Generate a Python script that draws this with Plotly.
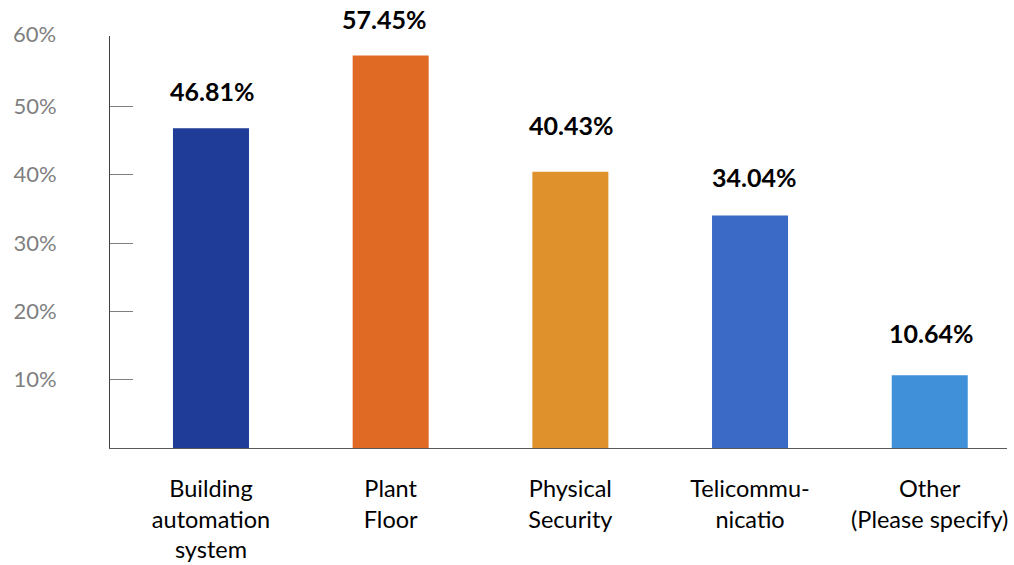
import plotly.graph_objects as go

categories = ["Building automation system", "Plant Floor", "Physical Security",
              "Telicommunicatio", "Other (Please specify)"]
tick_labels = ["Building<br>automation<br>system", "Plant<br>Floor", "Physical<br>Security",
               "Telicommu-<br>nicatio", "Other<br>(Please specify)"]
values = [46.81, 57.45, 40.43, 34.04, 10.64]
value_labels = ["46.81%", "57.45%", "40.43%", "34.04%", "10.64%"]
y_tick_vals = [0, 10, 20, 30, 40, 50]
y_tick_text = ["", "10%", "20%", "30%", "40%", "50%"]

colors = ["#1F3C98", "#E06A24", "#DF912B", "#3A69C6", "#3F8FD9"]
label_yshift = [37, 36, 47, 38, 42]
label_xshift = [1, -7, 1, 4, 1]

fig = go.Figure()
fig.add_trace(go.Bar(
    x=categories, y=values, marker=dict(color=colors, line=dict(width=0)),
    width=0.423, hoverinfo="skip",
))

for c, v, t, ys, xs in zip(categories, values, value_labels, label_yshift, label_xshift):
    fig.add_annotation(x=c, y=v, text="<b>%s</b>" % t, showarrow=False,
                       xanchor="center", yanchor="middle", yshift=ys, xshift=xs,
                       font=dict(family="Lato", size=25, color="#000000"))

fig.add_annotation(x=0, xref="paper", y=60, yref="y", text="60%", showarrow=False,
                   xanchor="right", yanchor="middle", xshift=-52, yshift=5,
                   font=dict(family="Lato", size=22, color="#7f7f7f"))

fig.update_layout(
    width=1014, height=565,
    margin=dict(l=110, r=7, t=36, b=117),
    paper_bgcolor="white", plot_bgcolor="white",
    showlegend=False,
    xaxis=dict(type="category", range=[-0.562, 4.43], tickmode="array",
               tickvals=categories, ticktext=tick_labels, ticks="",
               showline=True, linecolor="#595959", linewidth=1, showgrid=False,
               zeroline=False, ticklabelstandoff=20, automargin=False,
               tickfont=dict(family="Lato", size=23.5, color="#000000")),
    yaxis=dict(range=[0, 60.3], tickmode="array", tickvals=y_tick_vals,
               ticktext=y_tick_text, ticks="inside", ticklen=23, tickcolor="#7f7f7f",
               tickwidth=1, showline=True, linecolor="#404040", linewidth=1,
               showgrid=False, zeroline=False, ticklabelstandoff=48, automargin=False,
               tickfont=dict(family="Lato", size=22, color="#7f7f7f")),
)

fig.write_html("out.html")
